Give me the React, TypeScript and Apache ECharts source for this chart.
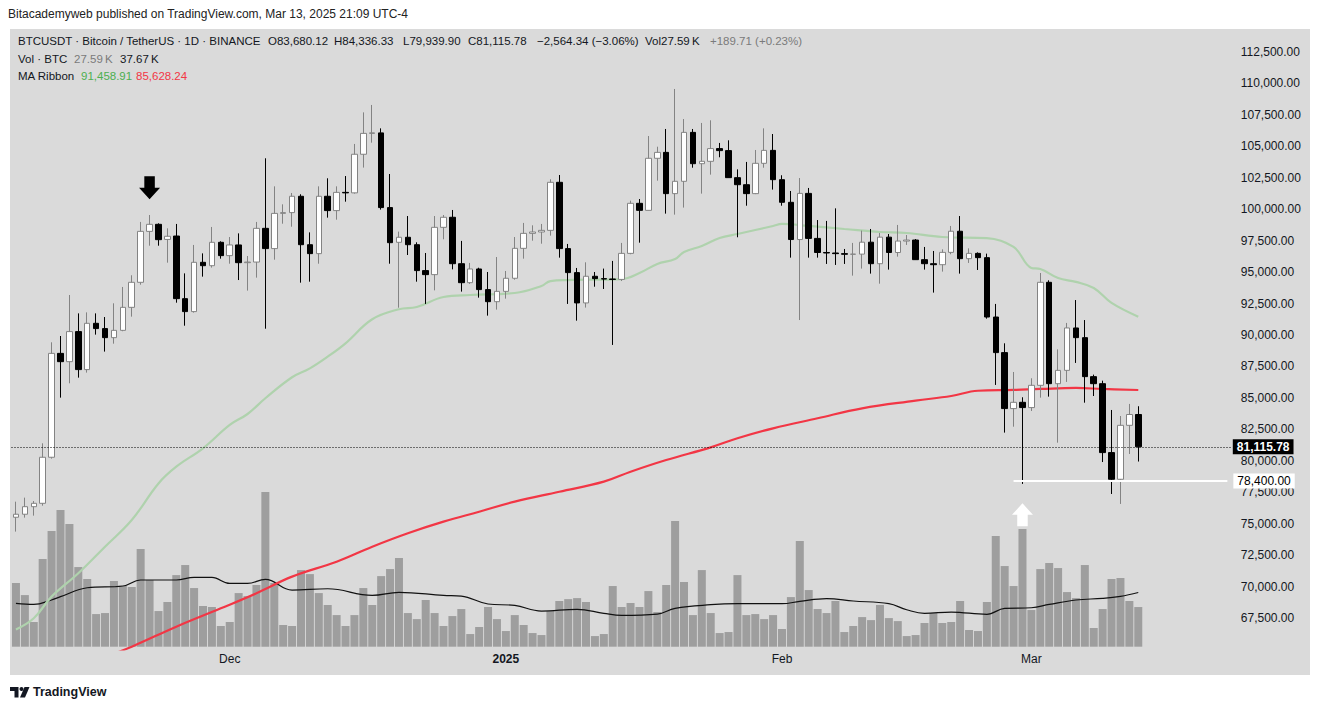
import React, { useEffect, useRef } from "react";
import * as echarts from "echarts";

// ---------- categories ----------
const FIRST_DAY = "2024-11-07";
const TRADED_DAYS = 127;
const EMPTY_DAYS = 10;
function makeDates(start: string, count: number): string[] {
  const out: string[] = [];
  const t0 = new Date(start + "T00:00:00Z").getTime();
  for (let i = 0; i < count; i++) out.push(new Date(t0 + i * 86400000).toISOString().slice(0, 10));
  return out;
}
const dates = makeDates(FIRST_DAY, TRADED_DAYS + EMPTY_DAYS);
const monthNames = ["Jan", "Feb", "Mar", "Apr", "May", "Jun", "Jul", "Aug", "Sep", "Oct", "Nov", "Dec"];

// ---------- price (BTCUSDT daily) ----------
const openP = [
  75510, 75750, 76350, 76620, 80280, 88540, 87880, 90270, 87250, 90930,
  90510, 89790, 90370, 92200, 94190, 98240, 98800, 97600, 97870, 92890,
  91860, 95780, 95510, 97370, 96310, 97160, 95750, 95800, 98480, 96870,
  99670, 99730, 101030, 97180, 96470, 101030, 99890, 101340, 101300, 104370,
  106030, 106070, 100130, 97370, 97770, 97180, 95120, 94800, 98560, 99360,
  95670, 94160, 95250, 93610, 92650, 93470, 94510, 96890, 98080, 98190,
  98320, 102140, 96870, 94960, 92550, 94670, 94480, 94450, 94420, 96490,
  100470, 99910, 104050, 104520, 101240, 102220, 106110, 103620, 103810, 104820,
  104660, 102510, 101950, 101240, 103650, 104680, 102350, 100550, 97590, 101260,
  97680, 96560, 96520, 96470, 96420, 96430, 97380, 95670, 97780, 96560,
  97470, 97550, 95990, 95670, 95590, 96570, 98250, 96070, 96490, 96150,
  91430, 88600, 84150, 84650, 84230, 86000, 94190, 86130, 87190, 90560,
  89790, 86690, 86130, 80650, 78530, 82820, 83680.12,
];
const highP = [
  76750, 77070, 76800, 81390, 89420, 89920, 93180, 91720, 91800, 91720,
  91430, 92520, 93820, 94750, 98990, 99540, 98880, 98480, 98830, 94900,
  97160, 96490, 98590, 97450, 97790, 98080, 96280, 98990, 104050, 101820,
  100390, 101290, 101190, 98160, 101820, 102460, 101820, 102640, 105190, 107700,
  108290, 106430, 102800, 98220, 99460, 97370, 96520, 99460, 99540, 99940,
  97480, 95730, 95350, 95010, 96200, 95090, 97790, 98910, 98720, 98830,
  102380, 102720, 97240, 95330, 95780, 95010, 95280, 95890, 97320, 100680,
  100810, 105820, 104970, 106380, 109560, 107170, 106380, 106860, 107070, 105270,
  105480, 103170, 103760, 104710, 106430, 105980, 102700, 101450, 102480, 101690,
  99140, 99070, 100070, 96840, 97320, 98300, 98430, 98110, 98030, 98750,
  97950, 97630, 97000, 96680, 96810, 98670, 99460, 96890, 96570, 96470,
  92470, 89340, 87060, 85050, 86560, 94930, 94350, 88860, 90960, 92780,
  91190, 86850, 86370, 84040, 83560, 84520, 84336.33,
];
const lowP = [
  74370, 75480, 75640, 76430, 80170, 85020, 86160, 86610, 87010, 90030,
  88680, 89310, 90300, 91460, 94000, 97100, 97100, 95750, 92570, 90740,
  91780, 94640, 95360, 96070, 95670, 94370, 93530, 94560, 90500, 95990,
  98850, 98610, 94160, 94240, 95670, 99330, 99170, 100600, 101240, 103310,
  105290, 99970, 95670, 92170, 96360, 94240, 92470, 93550, 97610, 95220,
  93450, 94060, 92970, 91540, 92020, 92890, 94400, 96070, 97500, 97260,
  97900, 96150, 92470, 91140, 92180, 93840, 93660, 89210, 94290, 96420,
  97340, 99900, 102270, 99650, 99570, 100130, 103300, 101240, 102750, 104130,
  102500, 97770, 100280, 101200, 103300, 101560, 100280, 96150, 91190, 96150,
  96150, 95650, 95570, 95650, 94720, 95280, 94880, 94080, 95200, 96230,
  97160, 95980, 95200, 93370, 95040, 96420, 94880, 95730, 95170, 91300,
  86030, 82240, 82710, 78160, 83960, 85020, 85100, 81440, 86270, 87780,
  84620, 85150, 79900, 77360, 76570, 80540, 79939.9,
];
const closeP = [
  75750, 76350, 76620, 80280, 88540, 87880, 90270, 87250, 90930, 90510,
  89790, 90370, 92200, 94190, 98240, 98800, 97580, 97850, 92890, 91860,
  95780, 95510, 97370, 96310, 97160, 95750, 95800, 98480, 96870, 99670,
  99730, 101030, 97180, 96470, 101030, 99890, 101340, 101300, 104370, 106030,
  106070, 100130, 97340, 97770, 97180, 95120, 94800, 98560, 99360, 95670,
  94160, 95250, 93610, 92650, 93470, 94510, 96890, 98080, 98190, 98320,
  102140, 96870, 94960, 92550, 94670, 94480, 94450, 94420, 96490, 100470,
  99910, 104050, 104520, 101240, 102220, 106110, 103620, 103810, 104820, 104660,
  102510, 101950, 101240, 103650, 104680, 102350, 100550, 97590, 101260, 97680,
  96560, 96520, 96470, 96420, 96430, 97380, 95670, 97780, 96560, 97470,
  97550, 95990, 95670, 95590, 96570, 98250, 96070, 96490, 96150, 91430,
  88600, 84150, 84650, 84230, 86000, 94190, 86130, 87190, 90560, 89790,
  86690, 86130, 80650, 78530, 82820, 83680.12, 81115.78,
];

// ---------- volume (thousand BTC) ----------
const volumeK = [
  44.3, 35.9, 17.2, 61.0, 80.4, 95.0, 85.3, 55.4, 47.1, 22.7,
  23.4, 45.7, 42.2, 41.5, 67.9, 46.4, 24.8, 31.1, 49.8, 56.8,
  40.8, 28.3, 27.6, 14.4, 17.2, 37.3, 35.2, 42.9, 107.6, 44.3,
  15.1, 14.4, 53.3, 50.5, 37.3, 29.0, 22.0, 14.4, 22.0, 40.8,
  29.0, 49.1, 54.0, 61.7, 23.4, 19.2, 32.5, 23.4, 14.4, 21.3,
  26.2, 8.8, 13.7, 27.6, 19.2, 10.9, 22.0, 15.1, 9.5, 8.1,
  24.8, 31.8, 33.1, 33.8, 31.1, 7.4, 8.8, 42.2, 27.6, 30.4,
  27.6, 38.7, 24.1, 42.9, 87.4, 45.0, 22.0, 53.3, 23.4, 9.5,
  10.2, 49.8, 22.0, 22.7, 19.2, 22.0, 12.3, 34.5, 73.5, 39.4,
  26.2, 23.4, 31.8, 10.2, 14.4, 20.6, 18.5, 29.0, 19.9, 17.8,
  7.4, 8.1, 16.5, 23.4, 16.5, 17.2, 31.8, 11.6, 10.9, 31.1,
  77.0, 56.1, 42.2, 81.8, 25.5, 54.0, 58.2, 54.7, 38.0, 33.8,
  56.8, 13.0, 26.2, 47.1, 47.8, 31.8, 27.59,
];

// volume moving average, read at sample dates (thousand BTC)
const volumeMA: [string, number][] = [
  ["2024-11-07", 30.1], ["2024-11-09", 29.4], ["2024-11-11", 32.5], ["2024-11-12", 34.8],
  ["2024-11-15", 41.0], ["2024-11-19", 42.2], ["2024-11-21", 46.4], ["2024-11-25", 46.4],
  ["2024-11-27", 48.2], ["2024-11-29", 48.2], ["2024-12-01", 44.0], ["2024-12-03", 44.0],
  ["2024-12-05", 46.8], ["2024-12-08", 39.4], ["2024-12-12", 40.3], ["2024-12-17", 35.7],
  ["2024-12-20", 37.8], ["2024-12-25", 35.7], ["2024-12-27", 35.2], ["2024-12-30", 29.7],
  ["2025-01-02", 28.7], ["2025-01-05", 24.8], ["2025-01-09", 26.0], ["2025-01-12", 23.2],
  ["2025-01-14", 21.8], ["2025-01-18", 22.7], ["2025-01-20", 26.7], ["2025-01-24", 29.2],
  ["2025-01-27", 29.9], ["2025-02-01", 29.9], ["2025-02-03", 31.5], ["2025-02-06", 33.4],
  ["2025-02-09", 31.8], ["2025-02-13", 29.9], ["2025-02-15", 25.7], ["2025-02-17", 23.2],
  ["2025-02-20", 24.1], ["2025-02-24", 22.5], ["2025-02-26", 26.7], ["2025-03-01", 27.1],
  ["2025-03-03", 29.4], ["2025-03-06", 32.5], ["2025-03-09", 33.6], ["2025-03-11", 35.0],
  ["2025-03-13", 37.67],
];

// MA Ribbon lines, read at sample dates
const maFast: [string, number][] = [
  ["2024-11-07", 66590], ["2024-11-09", 67480], ["2024-11-11", 69200], ["2024-11-14", 71060],
  ["2024-11-17", 73170], ["2024-11-20", 75290], ["2024-11-23", 78200], ["2024-11-25", 79530],
  ["2024-11-28", 80990], ["2024-12-01", 82850], ["2024-12-03", 83720], ["2024-12-05", 84970],
  ["2024-12-08", 86640], ["2024-12-10", 87350], ["2024-12-12", 88280], ["2024-12-14", 89340],
  ["2024-12-17", 91250], ["2024-12-20", 92050], ["2024-12-22", 92230], ["2024-12-25", 93020],
  ["2024-12-28", 93180], ["2025-01-02", 93340], ["2025-01-05", 93900], ["2025-01-06", 94290],
  ["2025-01-08", 94370], ["2025-01-14", 94450], ["2025-01-16", 94930], ["2025-01-18", 95650],
  ["2025-01-20", 96040], ["2025-01-21", 96600], ["2025-01-23", 97080], ["2025-01-25", 97710],
  ["2025-01-27", 98030], ["2025-01-29", 98350], ["2025-01-31", 98670], ["2025-02-01", 98830],
  ["2025-02-04", 98670], ["2025-02-08", 98430], ["2025-02-12", 98190], ["2025-02-15", 98110],
  ["2025-02-19", 97790], ["2025-02-24", 97710], ["2025-02-27", 97000], ["2025-03-01", 95330],
  ["2025-03-02", 95250], ["2025-03-04", 94530], ["2025-03-06", 94220], ["2025-03-08", 93740],
  ["2025-03-10", 92550], ["2025-03-13", 91458.91],
];
const maSlow: [string, number][] = [
  ["2024-11-17", 64400], ["2024-11-20", 65220], ["2024-11-25", 66810], ["2024-11-30", 68270],
  ["2024-12-04", 69470], ["2024-12-08", 70790], ["2024-12-13", 71980], ["2024-12-17", 73170],
  ["2024-12-21", 74240], ["2024-12-25", 75160], ["2024-12-29", 75950], ["2025-01-02", 76750],
  ["2025-01-07", 77540], ["2025-01-12", 78340], ["2025-01-15", 79130], ["2025-01-19", 80060],
  ["2025-01-24", 81070], ["2025-01-27", 81790], ["2025-01-31", 82580], ["2025-02-05", 83380],
  ["2025-02-10", 84170], ["2025-02-16", 84780], ["2025-02-20", 85150], ["2025-02-23", 85570],
  ["2025-02-27", 85630], ["2025-03-02", 85710], ["2025-03-06", 85790], ["2025-03-09", 85710],
  ["2025-03-13", 85628.24],
];

// annotations
const supportLevel = 78400;
const supportFrom = "2025-02-27";
const downArrow: [string, number] = ["2024-11-22", 101700];
const upArrow: [string, number] = ["2025-02-28", 75700];
const volumeChangeText = "+189.71 (+0.23%)";

// price axis
const PRICE_MIN = 65000;
const PRICE_MAX = 115000;
const PRICE_STEP = 2500;
const VOL_MAX = 150;

const fmt = (n: number) => n.toLocaleString("en-US", { minimumFractionDigits: 2, maximumFractionDigits: 2 });
const toIdx = (arr: [string, number][]) => arr.map(([d, v]) => [dates.indexOf(d), v]);

const BLACK = "#131722";
const GRAY_TXT = "#7b7b7b";
const FONT = "'Liberation Sans', Arial, sans-serif";

export default function App() {
  const ref = useRef<HTMLDivElement>(null);
  useEffect(() => {
    document.body.style.margin = "0";
    const chart = echarts.init(ref.current!, undefined, { renderer: "svg" });
    const n = closeP.length;
    const last = n - 1;
    const candles = openP.map((o, i) => [o, closeP[i], lowP[i], highP[i]]);
    const chg = closeP[last] - closeP[last - 1];
    const chgPct = (chg / closeP[last - 1]) * 100;
    const sgn = (v: number) => (v < 0 ? "\u2212" : "+");
    const gridLeft = 11.5;
    const gridWidth = 1220.3;
    const pxPerK = 12.578; // px per 1000 USD
    const priceTop = 52 - ((PRICE_MAX - 112500) / 1000) * pxPerK;
    const priceHeight = ((PRICE_MAX - PRICE_MIN) / 1000) * pxPerK;
    const volBottom = 646.7;
    const volHeight = VOL_MAX * 1.4377;

    const legendItem = (x: number, y: number, text: string, fill: string, size = 11.5) => ({
      type: "text",
      x,
      y,
      silent: true,
      style: { text, fill, fontSize: size, fontFamily: FONT, verticalAlign: "middle" },
    });

    const option: any = {
      animation: false,
      backgroundColor: "#ffffff",
      textStyle: { fontFamily: FONT },
      graphic: [
        { type: "rect", z: -1, silent: true, shape: { x: 10, y: 29, width: 1300, height: 646 }, style: { fill: "#dadada" } },
        legendItem(8, 14, "Bitacademyweb published on TradingView.com, Mar 13, 2025 21:09 UTC-4", "#222222", 12),
        legendItem(18, 41, "BTCUSDT \u00b7 Bitcoin / TetherUS \u00b7 1D \u00b7 BINANCE", BLACK),
        legendItem(268, 41, "O" + fmt(openP[last]), BLACK),
        legendItem(334, 41, "H" + fmt(highP[last]), BLACK),
        legendItem(403, 41, "L" + fmt(lowP[last]), BLACK),
        legendItem(468, 41, "C" + fmt(closeP[last]), BLACK),
        legendItem(537, 41, `${sgn(chg)}${fmt(Math.abs(chg))} (${sgn(chg)}${Math.abs(chgPct).toFixed(2)}%)`, BLACK),
        legendItem(645, 41, `Vol${volumeK[last].toFixed(2)}\u202fK`, BLACK),
        legendItem(710, 41, volumeChangeText, GRAY_TXT),
        legendItem(18, 59, "Vol \u00b7 BTC", BLACK),
        legendItem(74, 59, `${volumeK[last].toFixed(2)}\u202fK`, GRAY_TXT),
        legendItem(120, 59, `${volumeMA[volumeMA.length - 1][1].toFixed(2)}\u202fK`, BLACK),
        legendItem(18, 76, "MA Ribbon", BLACK),
        legendItem(81, 76, fmt(maFast[maFast.length - 1][1]), "#4caf50"),
        legendItem(136, 76, fmt(maSlow[maSlow.length - 1][1]), "#f23645"),
        { type: "polygon", silent: true, shape: { points: [[10, 687], [18.5, 687], [18.5, 697.5], [14.5, 697.5], [14.5, 691], [10, 691]] }, style: { fill: "#131722" } },
        { type: "circle", silent: true, shape: { cx: 21.5, cy: 689, r: 2 }, style: { fill: "#131722" } },
        { type: "polygon", silent: true, shape: { points: [[24.5, 687], [29.5, 687], [25, 697.5], [20, 697.5]] }, style: { fill: "#131722" } },
        { type: "text", x: 33, y: 692, silent: true, style: { text: "TradingView", fill: "#131722", fontSize: 12.5, fontWeight: "bold", fontFamily: FONT, verticalAlign: "middle" } },
      ],
      grid: [
        { left: gridLeft, width: gridWidth, top: priceTop, height: priceHeight },
        { left: gridLeft, width: gridWidth, top: volBottom - volHeight, height: volHeight },
      ],
      xAxis: [
        {
          type: "category",
          gridIndex: 0,
          data: dates,
          boundaryGap: true,
          axisLine: { show: false },
          axisTick: { show: false },
          splitLine: { show: false },
          axisLabel: {
            margin: 4,
            color: BLACK,
            fontSize: 12,
            interval: (_i: number, v: string) => v.endsWith("-01"),
            formatter: (v: string) => {
              const m = +v.slice(5, 7);
              return m === 1 ? `{y|${v.slice(0, 4)}}` : monthNames[m - 1];
            },
            rich: { y: { fontWeight: "bold", fontSize: 12, color: BLACK, fontFamily: FONT } },
          },
        },
        { type: "category", gridIndex: 1, data: dates, boundaryGap: true, show: false },
      ],
      yAxis: [
        {
          type: "value",
          gridIndex: 0,
          position: "right",
          min: PRICE_MIN,
          max: PRICE_MAX,
          interval: PRICE_STEP,
          axisLine: { show: false },
          axisTick: { show: false },
          splitLine: { show: false },
          axisLabel: { show: true, margin: 9, color: BLACK, fontSize: 12, showMinLabel: false, showMaxLabel: false, formatter: (v: number) => fmt(v) },
        },
        { type: "value", gridIndex: 1, min: 0, max: VOL_MAX, show: false },
      ],
      series: [
        {
          type: "bar",
          name: "Vol",
          xAxisIndex: 1,
          yAxisIndex: 1,
          data: volumeK,
          barWidth: 8,
          itemStyle: { color: "#9e9e9e" },
          silent: true,
          z: 1,
        },
        {
          type: "line",
          name: "Vol MA",
          xAxisIndex: 1,
          yAxisIndex: 1,
          data: toIdx(volumeMA),
          smooth: 0.4,
          symbol: "none",
          lineStyle: { color: "#111111", width: 1.2 },
          silent: true,
          z: 2,
        },
        {
          type: "line",
          name: "MA fast",
          data: toIdx(maFast),
          smooth: 0.4,
          symbol: "none",
          lineStyle: { color: "#afd2ad", width: 2.2 },
          silent: true,
          z: 3,
        },
        {
          type: "line",
          name: "MA slow",
          data: toIdx(maSlow),
          smooth: 0.4,
          symbol: "none",
          lineStyle: { color: "#f23645", width: 2.2 },
          silent: true,
          z: 3,
        },
        {
          type: "candlestick",
          name: "BTCUSDT",
          data: candles,
          barWidth: 6,
          itemStyle: { color: "#ffffff", color0: "#000000", borderColor: "#838383", borderColor0: "#000000", borderWidth: 1 },
          z: 4,
          markLine: {
            silent: true,
            symbol: ["none", "none"],
            animation: false,
            data: [
              {
                yAxis: closeP[last],
                lineStyle: { type: [1, 2], color: "#000000", width: 1 },
                label: {
                  show: true,
                  position: "end",
                  distance: 1,
                  formatter: fmt(closeP[last]),
                  backgroundColor: "#000000",
                  color: "#ffffff",
                  fontWeight: "bold",
                  fontSize: 12,
                  fontFamily: FONT,
                  padding: [2, 4, 1, 4],
                },
              },
              [
                {
                  coord: [supportFrom, supportLevel],
                  lineStyle: { type: "solid", color: "#ffffff", width: 2 },
                  label: {
                    show: true,
                    position: "end",
                    distance: 6,
                    formatter: fmt(supportLevel),
                    backgroundColor: "#ffffff",
                    color: "#000000",
                    fontSize: 12,
                    fontFamily: FONT,
                    padding: [2, 4, 1, 4],
                  },
                },
                { coord: [dates[dates.length - 1], supportLevel] },
              ],
            ],
          },
          markPoint: {
            silent: true,
            animation: false,
            label: { show: false },
            data: [
              {
                coord: downArrow,
                symbol: "path://M5,0 L15,0 L15,11 L20,11 L10,22 L0,11 L5,11 Z",
                symbolSize: [21, 23],
                symbolKeepAspect: false,
                itemStyle: { color: "#000000" },
              },
              {
                coord: upArrow,
                symbol: "path://M10,0 L20,11 L15,11 L15,22 L5,22 L5,11 L0,11 Z",
                symbolSize: [21, 23],
                symbolKeepAspect: false,
                itemStyle: { color: "#ffffff" },
              },
            ],
          },
        },
      ],
    };
    chart.setOption(option);
    return () => chart.dispose();
  }, []);
  return <div ref={ref} style={{ width: 1320, height: 710 }} />;
}
